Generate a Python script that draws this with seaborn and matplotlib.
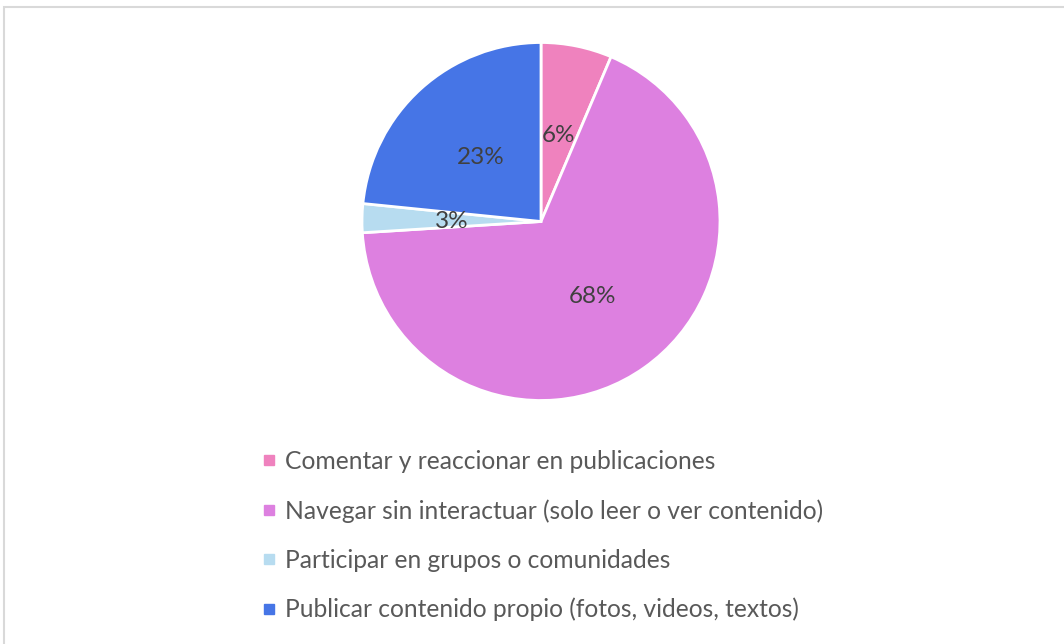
import matplotlib
matplotlib.use("Agg")
import matplotlib.pyplot as plt
from matplotlib.lines import Line2D
from matplotlib.patches import Rectangle
import seaborn as sns

categories = [
    "Comentar y reaccionar en publicaciones",
    "Navegar sin interactuar (solo leer o ver contenido)",
    "Participar en grupos o comunidades",
    "Publicar contenido propio (fotos, videos, textos)",
]
values = [6.4, 67.6, 2.6, 23.4]
colors = ["#EF82BE", "#DD80E0", "#B7DCF0", "#4675E6"]

sns.set_theme(style="white")
plt.rcParams["font.family"] = ["Lato", "DejaVu Sans"]

W, H = 1064, 644
fig = plt.figure(figsize=(W / 100, H / 100), dpi=100)
fig.patch.set_facecolor("white")

cx, cy, r = 541, 221.5, 179
ax = fig.add_axes([(cx - r) / W, (H - cy - r) / H, 2 * r / W, 2 * r / H])
wedges, texts, autotexts = ax.pie(
    values,
    colors=colors,
    startangle=90,
    counterclock=False,
    autopct="%.0f%%",
    pctdistance=0.5,
    wedgeprops=dict(edgecolor="white", linewidth=2),
    textprops=dict(color="#404040", fontsize=17.5),
)
for t in autotexts:
    t.set_verticalalignment("center_baseline")
ax.set_xlim(-1, 1)
ax.set_ylim(-1, 1)
ax.set_aspect("equal")
ax.axis("off")

handles = [
    Line2D([], [], marker="s", linestyle="", markersize=6.5, color=c)
    for c in colors
]
fig.legend(
    handles,
    categories,
    loc="upper left",
    bbox_to_anchor=(262 / W, 1 - 450 / H),
    frameon=False,
    fontsize=17.7,
    labelcolor="#595959",
    handlelength=0.55,
    handletextpad=0.4,
    labelspacing=1.06,
    borderpad=0,
    borderaxespad=0,
)

fig.add_artist(
    Rectangle(
        (3.5 / W, -0.05),
        1.2,
        (H - 6.5) / H + 0.05,
        transform=fig.transFigure,
        fill=False,
        edgecolor="#D9D9D9",
        linewidth=1.5,
    )
)

fig.savefig("out.png", dpi=100, facecolor="white")
